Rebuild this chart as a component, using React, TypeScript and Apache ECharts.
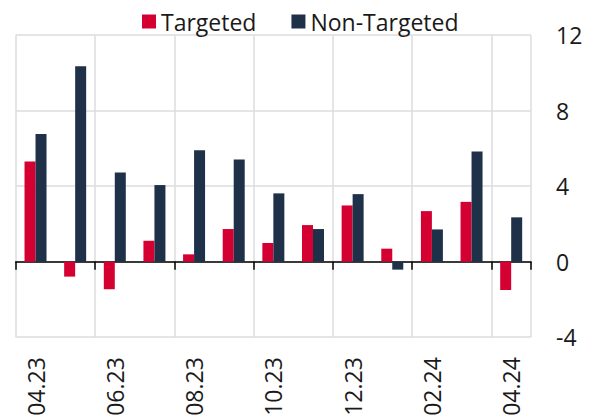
import React, { useEffect, useRef } from "react";
import * as echarts from "echarts";

const categories = ["04.23","05.23","06.23","07.23","08.23","09.23","10.23","11.23","12.23","01.24","02.24","03.24","04.24"];
const targeted = [5.31, -0.79, -1.46, 1.11, 0.39, 1.73, 0.99, 1.94, 2.98, 0.69, 2.68, 3.17, -1.5];
const nonTargeted = [6.76, 10.35, 4.73, 4.06, 5.91, 5.42, 3.62, 1.73, 3.58, -0.42, 1.71, 5.84, 2.35];
const seriesNames = ["Targeted", "Non-Targeted"];
const colors = ["#d50032", "#1f3149"];

export default function App() {
  const ref = useRef<HTMLDivElement>(null);
  useEffect(() => {
    if (!ref.current) return;
    const chart = echarts.init(ref.current, null, { renderer: "svg" });
    const font = "'Open Sans', sans-serif";
    chart.setOption({
      animation: false,
      textStyle: { fontFamily: font },
      legend: {
        left: 137,
        top: 5,
        itemWidth: 14,
        itemHeight: 14,
        itemGap: 35,
        icon: "rect",
        textStyle: { fontSize: 23, color: "#1a1a1a", fontFamily: font },
        data: seriesNames,
      },
      grid: { left: 15.7, right: 61, top: 35.2, bottom: 81.8, containLabel: false },
      xAxis: [
        {
          type: "category",
          data: categories,
          position: "bottom",
          axisLine: { show: true, onZero: true, lineStyle: { color: "#000", width: 1.5 } },
          axisTick: { show: true, interval: 1, length: 8, lineStyle: { color: "#000", width: 1.5 } },
          axisLabel: { show: false },
          splitLine: { show: true, interval: 1, lineStyle: { color: "#dcdcdc", width: 1.5 } },
        },
        {
          type: "category",
          data: categories,
          position: "bottom",
          axisLine: { show: false, onZero: false },
          axisTick: { show: false },
          axisLabel: {
            show: true,
            interval: 1,
            rotate: 90,
            margin: 20,
            fontSize: 23,
            color: "#1a1a1a",
            fontFamily: font,
          },
          splitLine: { show: false },
        },
      ],
      yAxis: {
        type: "value",
        position: "right",
        min: -4,
        max: 12,
        interval: 4,
        axisLine: { show: false },
        axisTick: { show: false },
        axisLabel: { fontSize: 23, color: "#1a1a1a", margin: 25, fontFamily: font },
        splitLine: { show: true, lineStyle: { color: "#dcdcdc", width: 1.5 } },
      },
      series: [
        {
          name: seriesNames[0],
          type: "bar",
          data: targeted,
          barWidth: 11,
          barGap: "0%",
          itemStyle: { color: colors[0] },
          xAxisIndex: 0,
        },
        {
          name: seriesNames[1],
          type: "bar",
          data: nonTargeted,
          barWidth: 11,
          barGap: "0%",
          itemStyle: { color: colors[1] },
          xAxisIndex: 0,
        },
      ],
    });
    return () => chart.dispose();
  }, []);
  return <div ref={ref} style={{ width: 592, height: 419, position: "absolute", left: 0, top: 0 }} />;
}
